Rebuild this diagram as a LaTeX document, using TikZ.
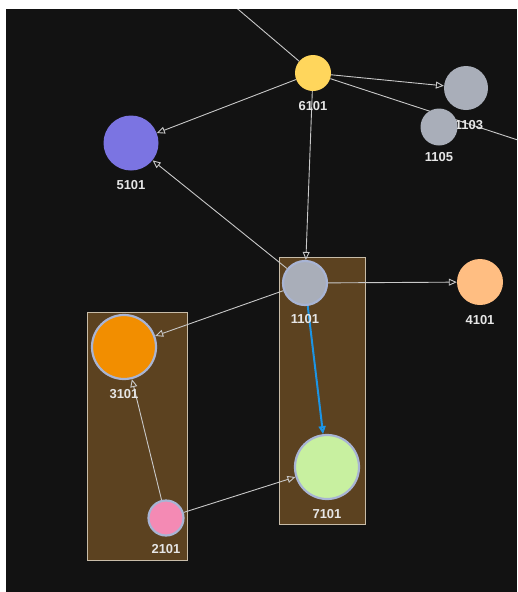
\documentclass[tikz,border=0pt]{standalone}
\usepackage{fontspec}
\setmainfont{Liberation Sans}
\usetikzlibrary{positioning,arrows.meta}

\definecolor{bgdark}{HTML}{121212}
\definecolor{edgegrey}{HTML}{C8C8C8}
\definecolor{boxbrown}{HTML}{5C4220}
\definecolor{boxline}{HTML}{C8BCA8}
\definecolor{ringblue}{HTML}{A8B4D4}
\definecolor{labelwhite}{HTML}{E6E6E6}
\definecolor{linkblue}{HTML}{1C94E4}
\definecolor{cyellow}{HTML}{FFD65C}
\definecolor{cgrey}{HTML}{A9AEB9}
\definecolor{cpurple}{HTML}{7B74E2}
\definecolor{cpeach}{HTML}{FFBE82}
\definecolor{corange}{HTML}{F28E00}
\definecolor{cgreen}{HTML}{C8F0A0}
\definecolor{cpink}{HTML}{F48AB4}

\pgfdeclarelayer{bg}
\pgfdeclarelayer{edges}
\pgfsetlayers{bg,edges,main}

\begin{document}
\begin{tikzpicture}[
  x=1pt, y=-1pt,
  arr/.style={-{Triangle[open,length=8pt,width=7pt]}, line width=0.9pt, draw=edgegrey},
  vert/.style={circle, inner sep=0pt},
  ring/.style={draw=ringblue, line width=2.2pt},
  grp/.style={draw=boxline, fill=boxbrown, line width=0.8pt},
  lbl/.style={font=\fontsize{13}{15}\selectfont\bfseries, text=labelwhite, inner sep=1pt}
]
\useasboundingbox (0,0) rectangle (517,592);

\begin{pgfonlayer}{bg}
\fill[bgdark] (6,9) rectangle (517,592);
% Groups
\draw[grp] (87,312) rectangle (187,560);
\draw[grp] (279,257) rectangle (365,524);
\end{pgfonlayer}

% Nodes
\node[vert, fill=cyellow, minimum size=36pt] (n6101) at (313,73) {};
\node[vert, fill=cgrey, minimum size=44pt] (n1103) at (466,88) {};
\node[lbl] (t1103) at (469,125) {1103};
\node[vert, fill=cgrey, minimum size=37pt] (n1105) at (439,127) {};
\node[vert, fill=cpurple, minimum size=55pt] (n5101) at (131,143) {};
\node[vert, ring, fill=cgrey, minimum size=44pt] (n1101) at (305,283) {};
\node[vert, fill=cpeach, minimum size=46pt] (n4101) at (480,282) {};
\node[vert, ring, fill=corange, minimum size=64pt] (n3101) at (124,347) {};
\node[vert, ring, fill=cgreen, minimum size=64pt] (n7101) at (327,467) {};
\node[vert, ring, fill=cpink, minimum size=35pt] (n2101) at (166,518) {};

% Labels
\node[lbl, below=9pt of n6101] (t6101) {6101};
\node[lbl, below=6pt of n1105] (t1105) {1105};
\node[lbl, below=9pt of n5101] (t5101) {5101};
\node[lbl, below=7pt of n1101] (t1101) {1101};
\node[lbl, below=9pt of n4101] (t4101) {4101};
\node[lbl, below=8pt of n3101] (t3101) {3101};
\node[lbl, below=8pt of n7101] (t7101) {7101};
\node[lbl, below=7pt of n2101] (t2101) {2101};

\coordinate (offtop) at (226,-1);
\coordinate (offright) at (530,144);

\begin{pgfonlayer}{edges}
\begin{scope}
\clip (6,9) rectangle (517,592);
\draw[edgegrey, line width=0.9pt] (offtop) -- (n6101);
\draw[edgegrey, line width=0.9pt] (n6101) -- (offright);
\end{scope}
\draw[arr] (n6101) -- (n1103);
\draw[arr] (n6101) -- (n5101);
\draw[arr] (n6101) -- (n1101);
\draw[arr] (n1101) -- (n5101);
\draw[arr] (n1101) -- (n4101);
\draw[arr] (n1101) -- (n3101);
\draw[arr, draw=linkblue, line width=2pt] (n1101) -- (n7101);
\draw[arr] (n2101) -- (n3101);
\draw[arr] (n2101) -- (n7101);
\end{pgfonlayer}

\end{tikzpicture}
\end{document}
